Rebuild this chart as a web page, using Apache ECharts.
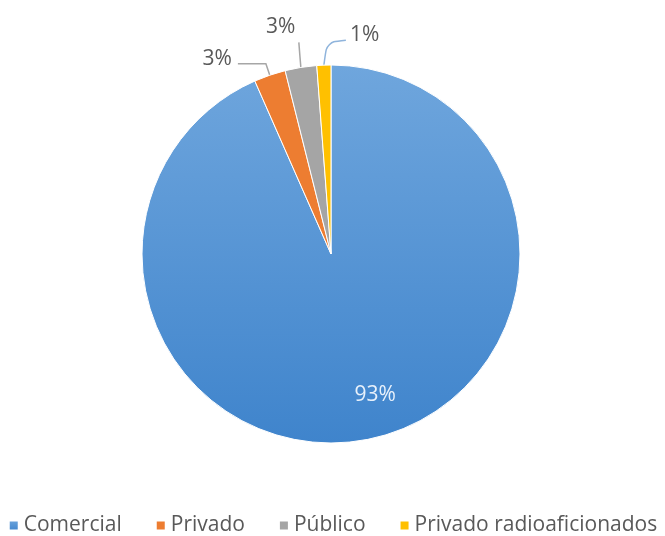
<!DOCTYPE html>
<html>
<head>
<meta charset="utf-8">
<script src="https://cdn.jsdelivr.net/npm/echarts@6/dist/echarts.min.js"></script>
<style>html,body{margin:0;padding:0;background:#fff;}#c{width:665px;height:536px;}</style>
</head>
<body>
<div id="c"></div>
<script>
const categories = ['Comercial', 'Privado', 'Público', 'Privado radioaficionados'];
const values = [93.4, 2.7, 2.7, 1.2];
const colors = ['#5b9bd5', '#ed7d31', '#a5a5a5', '#ffc000'];

const chart = echarts.init(document.getElementById('c'));
const FONT = 'Open Sans';
const blueGrad = new echarts.graphic.LinearGradient(0, 0, 0, 1, [
  {offset: 0, color: '#6fa6dd'},
  {offset: 1, color: '#3f84cc'}
]);
const labelShift = [
  {dx: 24, dy: 46},
  {dx: -1, dy: -5},
  {dx: 7, dy: -19},
  {dx: 38, dy: -8, align: 'left'}
];
// leader-line bends, relative to the point where the line leaves the slice
const lineBends = [
  null,
  null,
  [[-1, -12], [-2, -25]],
  [[3, -23], [22, -25]]
];
const lineLens = [[0,0],[12,28],[22,4],[22,6]];
const data = categories.map((name, i) => {
  const item = {name: name, value: values[i]};
  item.itemStyle = {color: i === 0 ? blueGrad : colors[i]};
  if (i === 0) {
    item.label = {position: 'inside', color: '#e8f1fb'};
  } else {
    item.label = {position: 'outside', color: '#595959'};
    item.labelLine = {length: lineLens[i][0], length2: lineLens[i][1], smooth: i === 3 ? 0.3 : false, lineStyle: {color: i===3 ? '#8fb4dc' : '#a6a6a6', width: 1.5}};
  }
  return item;
});

chart.setOption({
  animation: false,
  color: colors,
  legend: {
    top: 510,
    left: 'center',
    itemWidth: 10,
    itemHeight: 10,
    itemGap: 33,
    icon: 'rect',
    textStyle: {fontFamily: FONT, fontSize: 21, color: '#595959'},
    data: categories
  },
  series: [{
    type: 'pie',
    center: [331, 254],
    radius: 189,
    startAngle: 90,
    clockwise: true,
    avoidLabelOverlap: false,
    itemStyle: {borderColor: '#ffffff', borderWidth: 1},
    label: {
      show: true,
      fontFamily: FONT,
      fontSize: 21,
      formatter: p => Math.round(p.percent) + '%'
    },
    labelLayout: p => {
      const out = Object.assign({}, labelShift[p.dataIndex]);
      const bends = lineBends[p.dataIndex];
      if (bends && p.labelLinePoints) {
        const p0 = p.labelLinePoints[0];
        out.labelLinePoints = [p0.slice()].concat(bends.map(b => [p0[0] + b[0], p0[1] + b[1]]));
      }
      return out;
    },
    data: data
  }]
});
</script>
</body>
</html>
